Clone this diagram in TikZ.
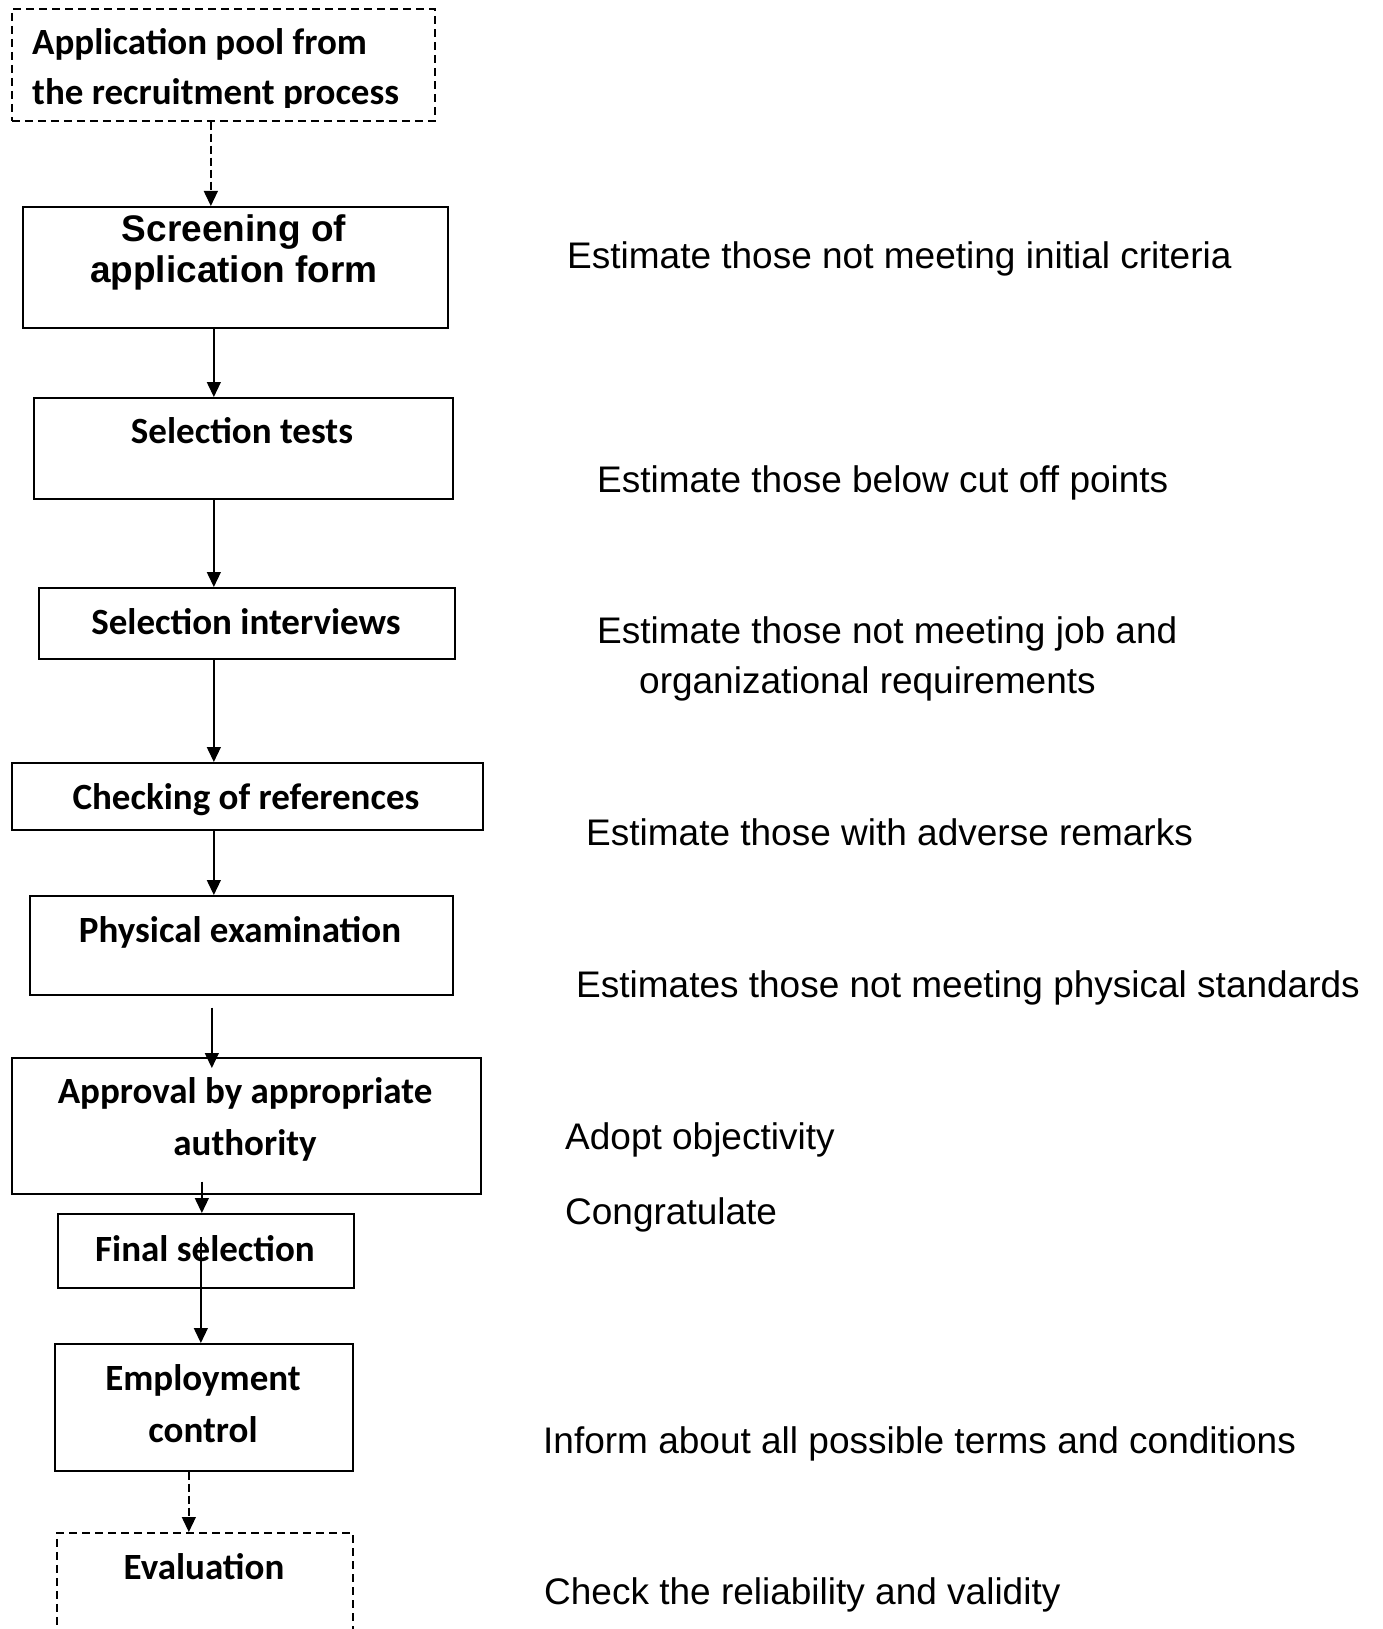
\documentclass[tikz,border=0pt]{standalone}
\usepackage{fontspec}
\setmainfont{Liberation Sans}
\newfontfamily\boxfont{Carlito}[BoldFont={* Bold}]
\newfontfamily\headfont{Liberation Sans}
\usetikzlibrary{arrows.meta}

\tikzset{
  stepbox/.style={draw, line width=1.7pt, rectangle, inner sep=0pt, anchor=north west},
  dashbox/.style={stepbox, dash pattern=on 8pt off 5pt},
  boxtext/.style={inner sep=0pt, anchor=base, font=\boxfont\bfseries\fontsize{37}{51}\selectfont},
  headtext/.style={inner sep=0pt, anchor=base, font=\headfont\bfseries\fontsize{37}{41}\selectfont},
  note/.style={inner sep=0pt, anchor=base west, font=\fontsize{37}{45}\selectfont},
  flow/.style={line width=1.3pt, -{Triangle[length=15pt, width=14pt]}},
  dflow/.style={flow, dash pattern=on 8pt off 4pt},
}

\begin{document}
\begin{tikzpicture}[x=1pt, y=-1pt]
\useasboundingbox (0,0) rectangle (1382,1629);
\clip (0,0) rectangle (1382,1629);

% process boxes
\node[dashbox, minimum width=423pt, minimum height=112pt] (b1) at (11,8) {};
\node[stepbox, minimum width=425pt, minimum height=121pt] (b2) at (22,206) {};
\node[stepbox, minimum width=419pt, minimum height=101pt] (b3) at (33,397) {};
\node[stepbox, minimum width=416pt, minimum height=71pt]  (b4) at (38,587) {};
\node[stepbox, minimum width=471pt, minimum height=67pt]  (b5) at (11,762) {};
\node[stepbox, minimum width=423pt, minimum height=99pt]  (b6) at (29,895) {};
\node[stepbox, minimum width=469pt, minimum height=136pt] (b7) at (11,1057) {};
\node[stepbox, minimum width=296pt, minimum height=74pt]  (b8) at (57,1213) {};
\node[stepbox, minimum width=298pt, minimum height=127pt] (b9) at (54,1343) {};
\node[dashbox, minimum width=296pt, minimum height=130pt] (b10) at (56,1532) {};

% box captions
\begin{scope}
  \clip (11,8) rectangle (434,108);
  \node[boxtext, anchor=base west] (t1a) at (32,55) {Application pool from};
  \node[boxtext, anchor=base west] (t1b) at (32,105) {the recruitment process};
\end{scope}
\node[headtext] (t2a) at (234,242) {Screening of};
\node[headtext] (t2b) at (234,283) {application form};
\node[boxtext] (t3) at (242,443) {Selection tests};
\node[boxtext] (t4) at (246,634) {Selection interviews};
\node[boxtext] (t5) at (246,809) {Checking of references};
\node[boxtext] (t6) at (240,942) {Physical examination};
\node[boxtext] (t7a) at (245,1103) {Approval by appropriate};
\node[boxtext] (t7b) at (245,1155) {authority};
\node[boxtext] (t8) at (205,1261) {Final selection};
\node[boxtext] (t9a) at (203,1390) {Employment};
\node[boxtext] (t9b) at (203,1442) {control};
\node[boxtext] (t10) at (204,1579) {Evaluation};

% remarks on the right
\node[note] (n1) at (567,269) {Estimate those not meeting initial criteria};
\node[note] (n2) at (597,492) {Estimate those below cut off points};
\node[note] (n3a) at (597,643) {Estimate those not meeting job and};
\node[note] (n3b) at (639,693) {organizational requirements};
\node[note] (n4) at (586,845) {Estimate those with adverse remarks};
\node[note] (n5) at (576,997) {Estimates those not meeting physical standards};
\node[note] (n6) at (565,1149) {Adopt objectivity};
\node[note] (n7) at (565,1224) {Congratulate};
\node[note] (n8) at (543,1453) {Inform about all possible terms and conditions};
\node[note] (n9) at (544,1604) {Check the reliability and validity};

% connectors
\draw[dflow] ([xshift=-12.5pt]b1.south) -- ([xshift=-24.5pt]b2.north);
\draw[flow] ([xshift=-21.5pt]b2.south) -- ([xshift=-29.5pt]b3.north);
\draw[flow] ([xshift=-29.5pt]b3.south) -- ([xshift=-33pt]b4.north);
\draw[flow] ([xshift=-33pt]b4.south) -- ([xshift=-33.5pt]b5.north);
\draw[flow] ([xshift=-33.5pt]b5.south) -- ([xshift=-27.5pt]b6.north);
\draw[flow] ([xshift=-29.5pt, yshift=-12pt]b6.south) -- ([xshift=-34.5pt, yshift=-11pt]b7.north);
\draw[flow] ([xshift=-44.5pt, yshift=13pt]b7.south) -- ([xshift=-4pt]b8.north);
\draw[flow] ([xshift=-5pt, yshift=-24pt]b8.north) -- ([xshift=-3pt]b9.north);
\draw[dflow] ([xshift=-15pt]b9.south) -- ([xshift=-16pt]b10.north);
\end{tikzpicture}
\end{document}
